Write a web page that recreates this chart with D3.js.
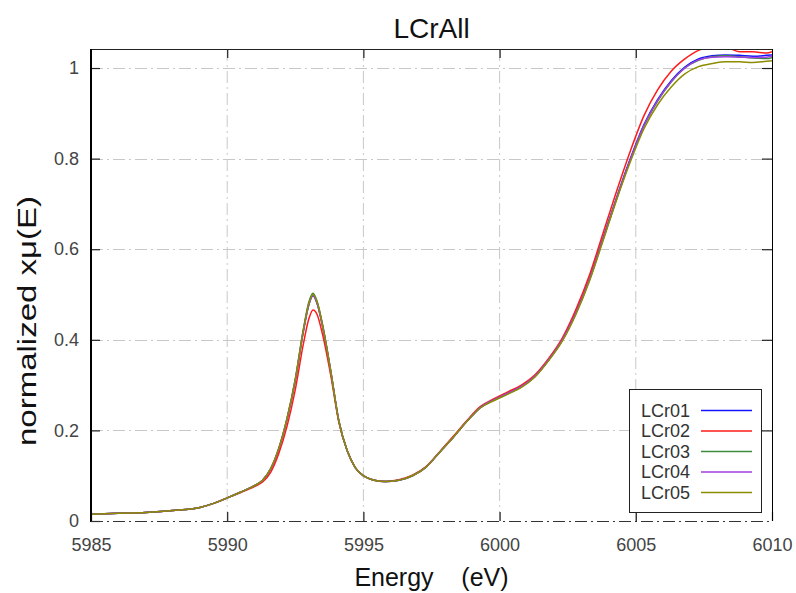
<!DOCTYPE html>
<html>
<head>
<meta charset="utf-8">
<script src="https://cdn.jsdelivr.net/npm/d3@7"></script>
<style>
  html, body { margin: 0; padding: 0; background: #fff; }
  svg { display: block; font-family: "Liberation Sans", Arial, sans-serif; }
</style>
</head>
<body>
<svg id="chart" width="796" height="593"></svg>
<script>
const title = "LCrAll";
const xLabel = "Energy    (eV)";
const yLabel = "normalized x\u03bc(E)";
const seriesNames = ["LCr01", "LCr02", "LCr03", "LCr04", "LCr05"];
const seriesColors = ["#1414ff", "#ff1a1a", "#3c8c3c", "#a040e0", "#8c8c00"];
const xTicks = [5985, 5990, 5995, 6000, 6005, 6010];
const yTicks = [0, 0.2, 0.4, 0.6, 0.8, 1];
const yTickLabels = ["0", "0.2", "0.4", "0.6", "0.8", "1"];

const energy = [5985, 5986, 5987, 5988, 5989, 5989.5, 5990, 5990.5, 5991, 5991.3, 5991.6, 5991.9, 5992.2, 5992.5, 5992.8,
  5993.0, 5993.15, 5993.3, 5993.5, 5993.8, 5994.1, 5994.4, 5994.7, 5995.0, 5995.4, 5995.8,
  5996.3, 5996.8, 5997.3, 5997.8, 5998.3, 5998.8, 5999.3, 5999.8, 6000.3, 6000.8, 6001.3, 6001.8, 6002.3, 6002.8, 6003.3, 6003.8,
  6004.3, 6004.8, 6005.3, 6005.8, 6006.3, 6006.8, 6007.3, 6007.8, 6008.3, 6008.8, 6009.3, 6009.8, 6010];

const lcr01 = [0.015,0.017,0.019,0.023,0.030, 0.039,0.051,0.064,0.078, 0.090,0.115,0.160,0.225,0.310,0.420,
  0.478,0.497,0.480,0.430,0.330, 0.220,0.156,0.118,0.100,0.090,0.087,
  0.090,0.100,0.119,0.152,0.185,0.220,0.251,0.268, 0.282,0.297,0.320,0.356,0.400,0.460,0.535,0.625,
  0.715,0.800,0.875,0.930,0.972,1.002,1.020,1.027, 1.029,1.028,1.026,1.028,1.029];
const lcr02 = [0.015,0.017,0.019,0.023,0.030, 0.039,0.051,0.063,0.076, 0.086,0.108,0.150,0.210,0.290,0.392,
  0.447,0.466,0.456,0.412,0.322, 0.218,0.156,0.118,0.100,0.090,0.087,
  0.091,0.101,0.120,0.153,0.187,0.222,0.253,0.270, 0.285,0.300,0.323,0.359,0.404,0.467,0.543,0.636,
  0.729,0.817,0.895,0.952,0.993,1.020,1.039,1.047, 1.046,1.036,1.036,1.033,1.036];
const lcr03 = [0.015,0.017,0.019,0.023,0.030, 0.039,0.051,0.064,0.078, 0.090,0.116,0.162,0.228,0.314,0.425,
  0.484,0.503,0.485,0.434,0.332, 0.221,0.156,0.118,0.100,0.090,0.087,
  0.090,0.100,0.119,0.152,0.185,0.220,0.251,0.267, 0.281,0.296,0.319,0.355,0.398,0.458,0.532,0.622,
  0.712,0.797,0.872,0.927,0.969,1.000,1.017,1.025, 1.027,1.025,1.022,1.021,1.023];
const lcr04 = [0.015,0.017,0.019,0.023,0.030, 0.039,0.051,0.064,0.078, 0.090,0.115,0.161,0.226,0.311,0.421,
  0.479,0.498,0.481,0.431,0.331, 0.220,0.156,0.118,0.100,0.090,0.087,
  0.090,0.100,0.119,0.152,0.185,0.220,0.251,0.268, 0.282,0.297,0.320,0.356,0.400,0.459,0.533,0.623,
  0.713,0.798,0.873,0.928,0.970,1.000,1.018,1.024, 1.025,1.024,1.023,1.024,1.026];
const lcr05 = [0.015,0.017,0.019,0.023,0.030, 0.039,0.051,0.064,0.078, 0.090,0.116,0.161,0.227,0.312,0.422,
  0.480,0.500,0.483,0.432,0.331, 0.220,0.156,0.118,0.100,0.090,0.087,
  0.090,0.100,0.119,0.152,0.185,0.220,0.250,0.266, 0.280,0.295,0.318,0.354,0.397,0.456,0.530,0.619,
  0.710,0.793,0.866,0.919,0.958,0.987,1.003,1.010, 1.014,1.014,1.012,1.015,1.016];

const seriesValues = [lcr01, lcr02, lcr03, lcr04, lcr05];

const svg = d3.select("#chart");
const L = 91, R = 772, T = 49, B = 521;
const x = d3.scaleLinear().domain([5985, 6010]).range([L, R]);
const y = d3.scaleLinear().domain([0, 1.042]).range([B, T]);

const gridColor = "#c8c8c8";
const dash = "12,4,2,4";

// grid
const grid = svg.append("g");
grid.selectAll("line.gx").data(xTicks.slice(1, -1)).enter().append("line")
  .attr("x1", d => x(d)).attr("x2", d => x(d)).attr("y1", T).attr("y2", B)
  .attr("stroke", gridColor).attr("stroke-dasharray", dash).attr("stroke-width", 1);
grid.selectAll("line.gy").data(yTicks.slice(1)).enter().append("line")
  .attr("x1", L).attr("x2", R).attr("y1", d => Math.round(y(d)) + 0.5).attr("y2", d => Math.round(y(d)) + 0.5)
  .attr("stroke", gridColor).attr("stroke-dasharray", dash).attr("stroke-width", 1);

// axes (inward ticks, mirrored)
const axL = d3.axisLeft(y).tickValues(yTicks).tickSize(-9).tickPadding(12).tickFormat((d, i) => yTickLabels[i]);
const axB = d3.axisBottom(x).tickValues(xTicks).tickSize(-9).tickPadding(17).tickFormat(d3.format("d"));
const axR = d3.axisRight(y).tickValues(yTicks.slice(1)).tickSize(-10).tickFormat("");
const axT = d3.axisTop(x).tickValues(xTicks.slice(1, -1)).tickSize(-9).tickFormat("");

function styleAxis(g) {
  g.select(".domain").remove();
  g.selectAll(".tick line").attr("stroke", "#222").attr("stroke-width", 1.2);
  g.selectAll(".tick text").attr("fill", "#444").style("font-size", "18px")
    .style("font-family", "'Liberation Sans', Arial, sans-serif");
}
svg.append("g").attr("transform", `translate(${L},0)`).call(axL).call(styleAxis);
svg.append("g").attr("transform", `translate(0,${B})`).call(axB).call(styleAxis);
svg.append("g").attr("transform", `translate(${R},0)`).call(axR).call(styleAxis);
svg.append("g").attr("transform", `translate(0,${T})`).call(axT).call(styleAxis);

// clip + lines
svg.append("defs").append("clipPath").attr("id", "clip")
  .append("rect").attr("x", L).attr("y", T).attr("width", R - L).attr("height", B - T);

const line = d3.line().x((d, i) => x(energy[i])).y(d => y(d)).curve(d3.curveMonotoneX);
svg.append("g").attr("clip-path", "url(#clip)")
  .selectAll("path").data(seriesValues).enter().append("path")
  .attr("d", d => line(d)).attr("fill", "none")
  .attr("stroke", (d, i) => seriesColors[i]).attr("stroke-width", 1.5);

// frame
svg.append("line").attr("x1", L).attr("x2", R).attr("y1", T + 0.5).attr("y2", T + 0.5).attr("stroke", "#222");
svg.append("line").attr("x1", R + 0.5).attr("x2", R + 0.5).attr("y1", T).attr("y2", B).attr("stroke", "#000");
svg.append("line").attr("x1", L).attr("x2", L).attr("y1", T).attr("y2", B + 1).attr("stroke", "#000").attr("stroke-width", 2);
svg.append("line").attr("x1", L).attr("x2", R).attr("y1", B + 0.5).attr("y2", B + 0.5)
  .attr("stroke", "#333").attr("stroke-dasharray", dash);

// legend
const lg = svg.append("g");
lg.append("rect").attr("x", 629.5).attr("y", 389.5).attr("width", 132).attr("height", 123)
  .attr("fill", "#fff").attr("stroke", "#222").attr("stroke-width", 1);
const rows = lg.selectAll("g.row").data(seriesNames).enter().append("g")
  .attr("transform", (d, i) => `translate(0,${410.5 + i * 20.5})`);
rows.append("text").attr("x", 641).attr("y", 0).attr("dy", "0.35em")
  .style("font-size", "18px").attr("fill", "#333").text(d => d);
rows.append("line").attr("x1", 701).attr("x2", 752).attr("y1", 0).attr("y2", 0)
  .attr("stroke", (d, i) => seriesColors[i]).attr("stroke-width", 1.3);

// titles
svg.append("text").attr("x", (L + R) / 2).attr("y", 38).attr("text-anchor", "middle")
  .style("font-size", "28px").attr("fill", "#111").text(title);
svg.append("text").attr("x", (L + R) / 2).attr("y", 586).attr("text-anchor", "middle")
  .style("font-size", "25px").style("white-space", "pre").attr("fill", "#111").text(xLabel);
svg.append("text").attr("transform", `translate(36,321) rotate(-90)`).attr("text-anchor", "middle")
  .attr("textLength", 250).attr("lengthAdjust", "spacingAndGlyphs")
  .style("font-size", "26px").attr("fill", "#111").text(yLabel);
</script>
</body>
</html>
